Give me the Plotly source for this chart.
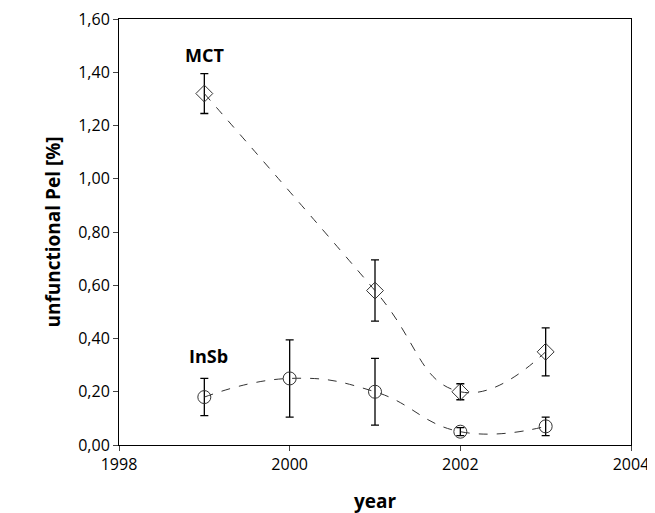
import plotly.graph_objects as go

years_mct = [1999, 2001, 2002, 2003]
mct = [1.32, 0.58, 0.20, 0.35]
mct_err = [0.075, 0.115, 0.03, 0.09]

years_insb = [1999, 2000, 2001, 2002, 2003]
insb = [0.18, 0.25, 0.20, 0.05, 0.07]
insb_err = [0.07, 0.145, 0.125, 0.015, 0.035]

fig = go.Figure()
for x, y, e, sym in [(years_mct, mct, mct_err, "diamond-open"),
                     (years_insb, insb, insb_err, "circle-open")]:
    fig.add_trace(go.Scatter(
        x=x, y=y, mode="lines+markers",
        line=dict(color="#333333", width=1, dash="dash", shape="spline", smoothing=1.3),
        marker=dict(symbol=sym, size=13, color="#333333", line=dict(width=1)),
        error_y=dict(type="data", array=e, color="black", thickness=1.3, width=4),
        showlegend=False))

fig.add_annotation(x=1999.0, y=1.465, text="<b>MCT</b>", showarrow=False,
                   font=dict(size=18, color="black"))
fig.add_annotation(x=1999.05, y=0.335, text="<b>InSb</b>", showarrow=False,
                   font=dict(size=18, color="black"))

fig.update_layout(
    width=655, height=513, plot_bgcolor="white", paper_bgcolor="white",
    margin=dict(l=111, r=32, t=11, b=76, autoexpand=False),
    font=dict(family="Open Sans, DejaVu Sans", size=16, color="black"),
    xaxis=dict(range=[1998, 2004], dtick=2, showline=True, mirror=True,
               linecolor="black", ticks="outside", showgrid=False, automargin=False,
               ticklabeloverflow="allow",
               title=dict(text="<b>year</b>", standoff=20, font=dict(size=19))),
    yaxis=dict(range=[0, 1.6], dtick=0.2, tickformat=".2f",
               showline=True, mirror=True, linecolor="black", ticks="outside",
               showgrid=False, automargin=False, ticklabeloverflow="allow",
               title=dict(text="<b>unfunctional Pel [%]</b>", standoff=12, font=dict(size=19))),
    separators=", ",
)
fig.write_html("out.html")
